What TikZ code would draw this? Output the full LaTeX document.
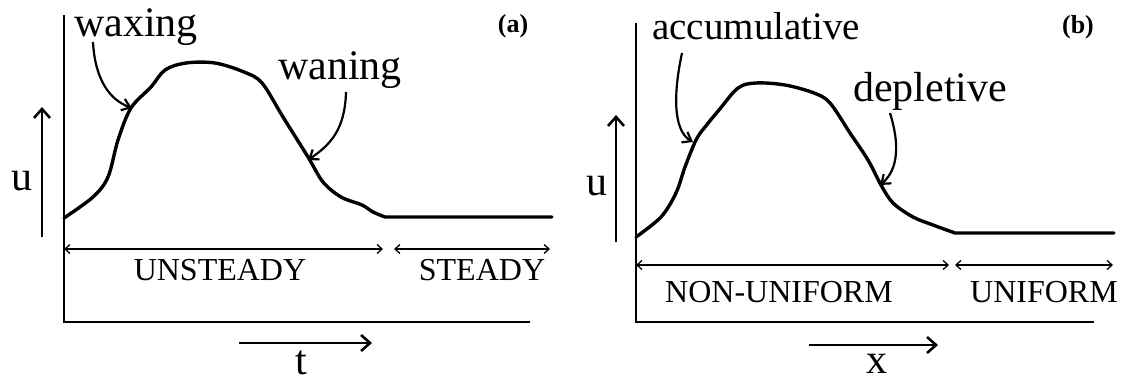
\documentclass[tikz,border=0pt]{standalone}
\usepackage{fontspec}
\setmainfont{Liberation Serif}
\usetikzlibrary{arrows.meta}
\begin{document}
\begin{tikzpicture}[x=1pt,y=-1pt,
  curve/.style={line width=3.4pt, line join=round, line cap=round},
  axisline/.style={line width=2.6pt},
  dirarrow/.style={line width=2.6pt, -{Straight Barb[length=9pt,width=16pt]}},
  span/.style={line width=1.3pt, {Straight Barb[length=5pt,width=9pt]}-{Straight Barb[length=5pt,width=9pt]}},
  pointer/.style={line width=2.2pt, -{Straight Barb[length=8pt,width=12pt]}},
  word/.style={font=\fontsize{42}{48}\selectfont, inner sep=0pt, anchor=base west},
  letter/.style={font=\fontsize{42}{48}\selectfont, inner sep=0pt, anchor=base},
  caps/.style={font=\fontsize{32}{38}\selectfont, inner sep=0pt, anchor=base},
  tag/.style={font=\fontsize{26}{30}\selectfont\bfseries, inner sep=0pt},
]
\useasboundingbox (0,0) rectangle (1126,377);

% ---------- panel (a)
\coordinate (aO) at (64,322);
\coordinate (aTop) at (64,15);
\coordinate (aEnd) at (530,322);
\draw[axisline] (aTop) -- (aO) -- (aEnd);
\coordinate (auS) at (42,237); \coordinate (auE) at (42,107);
\draw[dirarrow] (auS) -- (auE);
\node[letter] (au) at (22,190) {u};
\coordinate (atS) at (239,343); \coordinate (atE) at (372,343);
\draw[dirarrow] (atS) -- (atE);
\node[letter] (at) at (301,374) {t};
\draw[curve] plot[smooth, tension=0.55] coordinates {(64,218) (93,197) (108,177) (118,140) (131,108) (151,87) (165,70) (186,63) (215,63) (244,72) (262,83) (283,117) (308,157) (323,182) (341,197) (362,205) (373,212) (385,217)} -- (552,217);
\node[word] (waxing) at (74,37) {waxing};
\node[word] (waning) at (278,80) {waning};
\node[tag] (taga) at (513,26) {(a)};
\coordinate (wxS) at (93,42); \coordinate (wxE) at (132,108);
\draw[pointer] (wxS) .. controls (95,80) and (110,100) .. (wxE);
\coordinate (wnS) at (346,92); \coordinate (wnE) at (308,160);
\draw[pointer] (wnS) .. controls (345,130) and (330,145) .. (wnE);
\coordinate (usL) at (64,249); \coordinate (usR) at (383,249);
\draw[span] (usL) -- (usR);
\coordinate (stL) at (394,249); \coordinate (stR) at (550,249);
\draw[span] (stL) -- (stR);
\node[caps] (unsteady) at (220,280) {UNSTEADY};
\node[caps] (steady) at (482,280) {STEADY};

% ---------- panel (b)
\coordinate (bO) at (636,322);
\coordinate (bTop) at (636,23);
\coordinate (bEnd) at (1094,322);
\draw[axisline] (bTop) -- (bO) -- (bEnd);
\coordinate (buS) at (616,242); \coordinate (buE) at (616,115);
\draw[dirarrow] (buS) -- (buE);
\node[letter] (bu) at (597,195) {u};
\coordinate (bxS) at (809,345); \coordinate (bxE) at (938,345);
\draw[dirarrow] (bxS) -- (bxE);
\node[letter] (bx) at (877,373) {x};
\draw[curve] plot[smooth, tension=0.55] coordinates {(636,237) (661,217) (676,193) (685,167) (696,140) (705,127) (719,110) (738,88) (756,83) (785,85) (814,93) (830,103) (850,133) (868,160) (881,185) (893,203) (913,217) (933,225) (955,233)} -- (1114,233);
\node[word, font=\fontsize{39}{45}\selectfont] (accum) at (652,40) {accumulative};
\node[word] (deplet) at (853,102) {depletive};
\node[tag] (tagb) at (1078,27) {(b)};
\coordinate (acS) at (682,53); \coordinate (acE) at (693,142);
\draw[pointer] (acS) .. controls (674,90) and (672,130) .. (acE);
\coordinate (dpS) at (890,113); \coordinate (dpE) at (880,185);
\draw[pointer] (dpS) .. controls (900,145) and (898,170) .. (dpE);
\coordinate (nuL) at (636,265); \coordinate (nuR) at (949,265);
\draw[span] (nuL) -- (nuR);
\coordinate (unL) at (955,265); \coordinate (unR) at (1113,265);
\draw[span] (unL) -- (unR);
\node[caps] (nonuniform) at (779,302) {NON-UNIFORM};
\node[caps] (uniform) at (1044,302) {UNIFORM};
\end{tikzpicture}
\end{document}
